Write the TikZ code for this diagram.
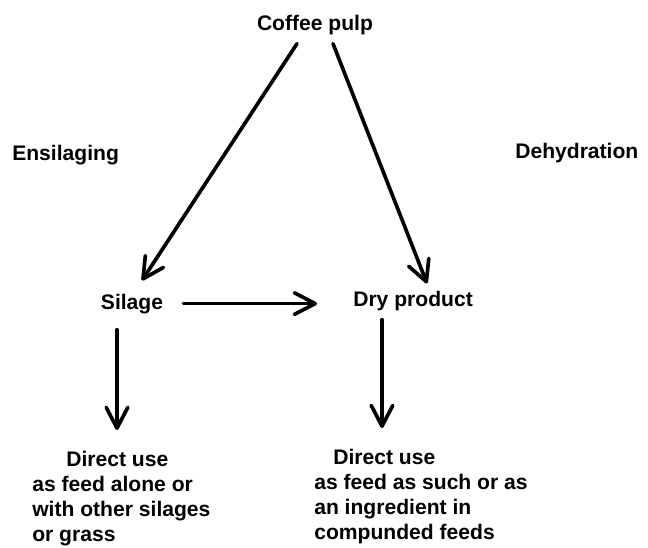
\documentclass[tikz,border=0pt]{standalone}
\usepackage{fontspec}
\setmainfont{Liberation Sans}
\usetikzlibrary{arrows.meta, calc}
\tikzset{
    lbl/.style={font=\fontsize{15}{17.8}\selectfont\bfseries, inner sep=0pt},
    endbox/.style={lbl, align=left, anchor=north west},
    flow/.style={-{Straight Barb[length=0.52cm, width=0.54cm, round]}, line width=2.6pt, line cap=round}
}

\begin{document}
\begin{tikzpicture}[x=0.025cm, y=-0.025cm]
            \useasboundingbox (0,0) rectangle (648,547);
            % products
            \node[lbl, anchor=base] (pulp) at (315,30) {Coffee pulp};
            \node[lbl, anchor=base] (silage) at (132,309) {Silage};
            \node[lbl, anchor=base west] (dry) at (353,306) {Dry product};
            % process names
            \node[lbl, anchor=base west] (ensil) at (12,160) {Ensilaging};
            \node[lbl, anchor=base west] (dehyd) at (515,158) {Dehydration};
            % uses
            \node[endbox] (usesil) at (32,451) {\hspace*{0.85cm}Direct use\\as feed alone or\\with other silages\\or grass};
            \node[endbox] (usedry) at (314,449) {\hspace*{0.475cm}Direct use\\as feed as such or as\\an ingredient in\\compunded feeds};
            % arrows
            \draw[flow] ($(pulp.south)+(-18,9)$) -- ($(silage.north)+(10,-13)$);
            \draw[flow] ($(pulp.south)+(18,9)$) -- ($(dry.north west)+(74,-7)$);
            \draw[flow] ($(silage.east)+(20,0)$) -- ($(silage.east -| dry.west)+(-36,0)$);
            \draw[flow] ($(silage.south)+(-15,16)$) -- ($(usesil.north west)+(85,-21)$);
            \draw[flow] ($(dry.south west)+(29,9)$) -- ($(usedry.north west)+(68,-21)$);
        \end{tikzpicture}
\end{document}
